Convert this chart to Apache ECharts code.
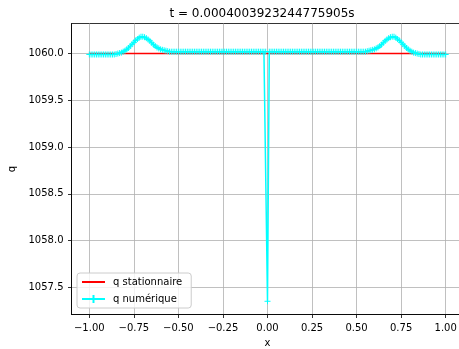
<!DOCTYPE html>
<html>
<head>
<meta charset="utf-8">
<script src="https://cdn.jsdelivr.net/npm/echarts@6/dist/echarts.min.js"></script>
<style>
  html, body { margin: 0; padding: 0; background: #fff; }
  #chart { width: 459px; height: 349px; }
</style>
</head>
<body>
<div id="chart"></div>
<script>
// sample positions of the numerical solution
const xs = [
  -1.00, -0.99, -0.98, -0.97, -0.96, -0.95, -0.94, -0.93, -0.92, -0.91,
  -0.90, -0.89, -0.88, -0.87, -0.86, -0.85, -0.84, -0.83, -0.82, -0.81,
  -0.80, -0.79, -0.78, -0.77, -0.76, -0.75, -0.74, -0.73, -0.72, -0.71,
  -0.70, -0.69, -0.68, -0.67, -0.66, -0.65, -0.64, -0.63, -0.62, -0.61,
  -0.60, -0.59, -0.58, -0.57, -0.56, -0.55, -0.54, -0.53, -0.52, -0.51,
  -0.50, -0.49, -0.48, -0.47, -0.46, -0.45, -0.44, -0.43, -0.42, -0.41,
  -0.40, -0.39, -0.38, -0.37, -0.36, -0.35, -0.34, -0.33, -0.32, -0.31,
  -0.30, -0.29, -0.28, -0.27, -0.26, -0.25, -0.24, -0.23, -0.22, -0.21,
  -0.20, -0.19, -0.18, -0.17, -0.16, -0.15, -0.14, -0.13, -0.12, -0.11,
  -0.10, -0.09, -0.08, -0.07, -0.06, -0.05, -0.04, -0.03, -0.02, -0.01,
   0.00,  0.01,  0.02,  0.03,  0.04,  0.05,  0.06,  0.07,  0.08,  0.09,
   0.10,  0.11,  0.12,  0.13,  0.14,  0.15,  0.16,  0.17,  0.18,  0.19,
   0.20,  0.21,  0.22,  0.23,  0.24,  0.25,  0.26,  0.27,  0.28,  0.29,
   0.30,  0.31,  0.32,  0.33,  0.34,  0.35,  0.36,  0.37,  0.38,  0.39,
   0.40,  0.41,  0.42,  0.43,  0.44,  0.45,  0.46,  0.47,  0.48,  0.49,
   0.50,  0.51,  0.52,  0.53,  0.54,  0.55,  0.56,  0.57,  0.58,  0.59,
   0.60,  0.61,  0.62,  0.63,  0.64,  0.65,  0.66,  0.67,  0.68,  0.69,
   0.70,  0.71,  0.72,  0.73,  0.74,  0.75,  0.76,  0.77,  0.78,  0.79,
   0.80,  0.81,  0.82,  0.83,  0.84,  0.85,  0.86,  0.87,  0.88,  0.89,
   0.90,  0.91,  0.92,  0.93,  0.94,  0.95,  0.96,  0.97,  0.98,  0.99,
   1.00
];

// q numérique, one value per entry of xs
const qNum = [
  1059.99, 1059.99, 1059.99, 1059.99, 1059.99, 1059.99, 1059.99, 1059.99, 1059.99, 1059.99,
  1059.99, 1059.99, 1059.99, 1059.99, 1059.99, 1059.995, 1060.0, 1060.005, 1060.01, 1060.02,
  1060.03, 1060.045, 1060.06, 1060.08, 1060.10, 1060.12, 1060.14, 1060.155, 1060.17, 1060.18,
  1060.18, 1060.175, 1060.165, 1060.15, 1060.135, 1060.115, 1060.095, 1060.08, 1060.065, 1060.055,
  1060.045, 1060.04, 1060.035, 1060.03, 1060.025, 1060.02, 1060.02, 1060.02, 1060.02, 1060.02,
  1060.02, 1060.02, 1060.02, 1060.02, 1060.02, 1060.02, 1060.02, 1060.02, 1060.02, 1060.02,
  1060.02, 1060.02, 1060.02, 1060.02, 1060.02, 1060.02, 1060.02, 1060.02, 1060.02, 1060.02,
  1060.02, 1060.02, 1060.02, 1060.02, 1060.02, 1060.02, 1060.02, 1060.02, 1060.02, 1060.02,
  1060.02, 1060.02, 1060.02, 1060.02, 1060.02, 1060.02, 1060.02, 1060.02, 1060.02, 1060.02,
  1060.02, 1060.02, 1060.02, 1060.02, 1060.02, 1060.02, 1060.02, 1060.02, 1060.02, 1060.02,
  1057.35, 1060.02, 1060.02, 1060.02, 1060.02, 1060.02, 1060.02, 1060.02, 1060.02, 1060.02,
  1060.02, 1060.02, 1060.02, 1060.02, 1060.02, 1060.02, 1060.02, 1060.02, 1060.02, 1060.02,
  1060.02, 1060.02, 1060.02, 1060.02, 1060.02, 1060.02, 1060.02, 1060.02, 1060.02, 1060.02,
  1060.02, 1060.02, 1060.02, 1060.02, 1060.02, 1060.02, 1060.02, 1060.02, 1060.02, 1060.02,
  1060.02, 1060.02, 1060.02, 1060.02, 1060.02, 1060.02, 1060.02, 1060.02, 1060.02, 1060.02,
  1060.02, 1060.02, 1060.02, 1060.02, 1060.02, 1060.02, 1060.025, 1060.03, 1060.035, 1060.04,
  1060.045, 1060.055, 1060.065, 1060.08, 1060.095, 1060.115, 1060.135, 1060.15, 1060.165, 1060.175,
  1060.18, 1060.18, 1060.17, 1060.155, 1060.14, 1060.12, 1060.10, 1060.08, 1060.06, 1060.045,
  1060.03, 1060.02, 1060.01, 1060.005, 1060.0, 1059.995, 1059.99, 1059.99, 1059.99, 1059.99,
  1059.99, 1059.99, 1059.99, 1059.99, 1059.99, 1059.99, 1059.99, 1059.99, 1059.99, 1059.99,
  1059.99
];

// q stationnaire: constant state
const qStatX = [-1.0, 1.0];
const qStatY = [1060.0, 1060.0];

const xTicks = [-1.0, -0.75, -0.5, -0.25, 0.0, 0.25, 0.5, 0.75, 1.0];
const yTicks = [1057.5, 1058.0, 1058.5, 1059.0, 1059.5, 1060.0];

const titleText = 't = 0.0004003923244775905s';
const FONT = 'DejaVu Sans';

const chart = echarts.init(document.getElementById('chart'), null, { renderer: 'canvas' });

const numData = xs.map((x, i) => [x, qNum[i]]);
const statData = qStatX.map((x, i) => [x, qStatY[i]]);

const option = {
  animation: false,
  backgroundColor: '#fff',
  textStyle: { fontFamily: FONT },
  title: {
    text: titleText,
    left: 262,
    top: 8,
    padding: 0,
    textAlign: 'center',
    textStyle: { fontFamily: FONT, fontSize: 12, fontWeight: 'normal', color: '#000' }
  },
  legend: {
    orient: 'vertical',
    left: 77,
    top: 273,
    padding: [4, 9, 4, 4],
    itemWidth: 23,
    itemHeight: 10,
    itemGap: 7,
    backgroundColor: 'rgba(255,255,255,0.8)',
    borderColor: '#cccccc',
    borderWidth: 1,
    borderRadius: 3,
    selectedMode: false,
    textStyle: { fontFamily: FONT, fontSize: 10, color: '#000', padding: [0, 0, 0, 3] },
    data: [
      { name: 'q stationnaire', itemStyle: { opacity: 0 } },
      { name: 'q numérique' }
    ]
  },
  grid: {
    left: 71.5,
    top: 23.5,
    right: -4.5,
    bottom: 34.5,
    outerBoundsMode: 'none',
    containLabel: false,
    show: true,
    borderColor: '#000',
    borderWidth: 0.8,
    backgroundColor: 'transparent'
  },
  xAxis: {
    type: 'value',
    min: -1.1,
    max: 1.1,
    name: 'x',
    nameLocation: 'middle',
    nameGap: 24,
    nameTextStyle: { fontFamily: FONT, fontSize: 10, color: '#000' },
    axisLine: { show: true, onZero: false, lineStyle: { color: '#000', width: 0.8 } },
    axisTick: { show: true, length: 3.5, customValues: xTicks, lineStyle: { color: '#000', width: 0.8 } },
    axisLabel: {
      customValues: xTicks,
      margin: 9,
      fontFamily: FONT, fontSize: 10, color: '#000',
      formatter: v => v.toFixed(2).replace('-', '\u2212')
    },
    splitLine: { show: true, lineStyle: { color: '#b0b0b0', width: 0.8 } }
  },
  yAxis: {
    type: 'value',
    min: 1057.2085,
    max: 1060.3215,
    name: 'q',
    nameLocation: 'middle',
    nameGap: 52,
    nameRotate: 90,
    nameTextStyle: { fontFamily: FONT, fontSize: 10, color: '#000' },
    axisLine: { show: true, onZero: false, lineStyle: { color: '#000', width: 0.8 } },
    axisTick: { show: true, length: 3.5, customValues: yTicks, lineStyle: { color: '#000', width: 0.8 } },
    axisLabel: {
      customValues: yTicks,
      margin: 8,
      fontFamily: FONT, fontSize: 10, color: '#000',
      formatter: v => v.toFixed(1)
    },
    splitLine: { show: true, lineStyle: { color: '#b0b0b0', width: 0.8 } }
  },
  series: [
    {
      name: 'q stationnaire',
      type: 'line',
      data: statData,
      symbol: 'none',
      lineStyle: { color: '#ff0000', width: 1.5 },
      itemStyle: { color: '#ff0000' },
      emphasis: { disabled: true },
      silent: true
    },
    {
      name: 'q numérique',
      type: 'line',
      data: numData,
      symbol: 'path://M0,-1L0,1M-1,0L1,0',
      symbolSize: 6,
      showAllSymbol: true,
      lineStyle: { color: '#00ffff', width: 1.5 },
      itemStyle: { color: '#00ffff', borderColor: '#00ffff', borderWidth: 1 },
      emphasis: { disabled: true },
      silent: true
    }
  ]
};

chart.setOption(option);
</script>
</body>
</html>
